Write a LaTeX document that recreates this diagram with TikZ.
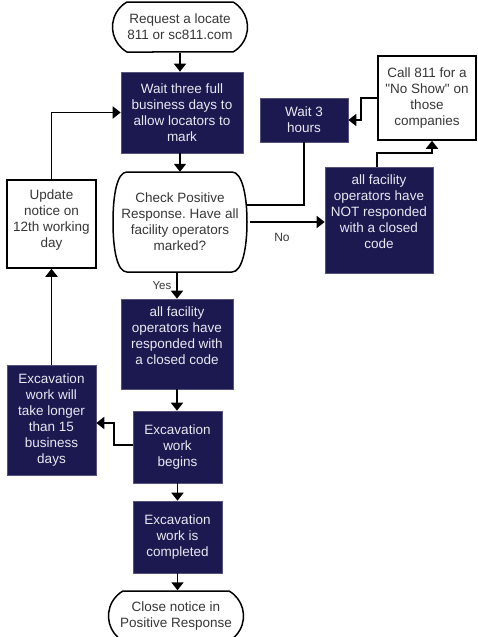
\documentclass[tikz,border=0pt]{standalone}
\usepackage{fontspec}
\setmainfont{Liberation Sans}[Ligatures=TeXOff]
\usetikzlibrary{shapes.misc,arrows.meta,calc}
\definecolor{navy}{RGB}{28,25,80}
\definecolor{lighttext}{RGB}{232,232,242}
\definecolor{darktext}{RGB}{55,55,55}
\frenchspacing
\begin{document}
\begin{tikzpicture}[x=1pt,y=-1pt,
  font=\fontsize{13.5}{16}\selectfont,
  darkbox/.style={rectangle, fill=navy, draw=navy!75!white, line width=0.6pt, text=lighttext, align=center, inner sep=0pt},
  whitebox/.style={rectangle, draw=black, line width=1.5pt, fill=white, text=darktext, align=center, inner sep=0pt},
  term/.style={rounded rectangle, rounded rectangle arc length=120, draw=black, line width=1.5pt, fill=white, text=darktext, align=center, inner sep=0pt},
  conn/.style={line width=1.8pt},
  arr/.style={line width=1.8pt, -{Triangle[width=12pt,length=8pt]}},
  lbl/.style={text=darktext, inner sep=0pt}
]
\useasboundingbox[fill=white] (0,0) rectangle (478,637);

% terminators
\node[term, minimum width=135pt, minimum height=50pt] (start) at (180,27) {Request a locate\\811 or sc811.com};
\node[term, minimum width=135pt, minimum height=50pt] (close) at (176,616) {Close notice in\\Positive Response};

% main column
\node[darkbox, minimum width=122pt, minimum height=81pt] (wait) at (182,112.5) {Wait three full\\business days to\\allow locators to\\mark};

% decision
\draw[line width=1.5pt, fill=white] (127,172) -- (232,172)
  .. controls (242,172) and (247,195) .. (247,222)
  .. controls (247,249) and (242,272) .. (232,272)
  -- (127,272)
  .. controls (117,272) and (113,249) .. (113,222)
  .. controls (113,195) and (117,172) .. (127,172) -- cycle;
\node[rectangle, minimum width=134pt, minimum height=100pt, inner sep=0pt, align=center, text=darktext] (dec) at (180,222) {Check Positive\\Response. Have all\\facility operators\\marked?};

\node[darkbox, minimum width=112pt, minimum height=90pt] (resp) at (177,344) {all facility\\operators have\\responded with\\a closed code\\\mbox{}};
\node[darkbox, minimum width=89pt, minimum height=72pt] (begins) at (177.5,447) {Excavation\\work\\begins};
\node[darkbox, minimum width=89pt, minimum height=72pt] (completed) at (177.5,537) {Excavation\\work is\\completed};

% right side
\node[darkbox, minimum width=88pt, minimum height=44pt] (wait3) at (304,120) {Wait 3\\hours};
\node[whitebox, minimum width=98pt, minimum height=84pt] (call) at (427,98) {Call 811 for a\\"No Show" on\\those\\companies};
\node[darkbox, minimum width=108pt, minimum height=106pt] (notbox) at (379,220) {all facility\\operators have\\NOT responded\\with a closed\\code\\\mbox{}};

% left side
\node[darkbox, minimum width=89pt, minimum height=110pt] (longer) at (51.5,420) {Excavation\\work will\\take longer\\than 15\\business\\days};
\node[whitebox, minimum width=89pt, minimum height=88pt] (update) at (51.5,224) {Update\\notice on\\12th working\\day\\[-6pt]\mbox{}};

% connectors
\draw[arr] (start.south) -- (start.south |- wait.north);
\draw[arr] (dec.north |- wait.south) -- (dec.north);
\draw[arr] (dec.south -| resp.north) -- (resp.north);
\draw[arr] (resp.south) -- (resp.south |- begins.north);
\draw[arr] (begins.south) -- (completed.north);
\draw[arr] (completed.south) -- (completed.south |- close.north);
\draw[arr] ($(dec.east)+(3,0)$) -- (dec.east -| notbox.west);
\draw[conn] (wait3.south) |- ($(dec.east)+(0,-17)$);
\draw[arr] (call.west) -- ++(-16,0) |- (wait3.east);
\draw[arr] ($(notbox.north)+(-2,0)$) -- ++(0,-14) -| ($(call.south)+(5,0)$);
\draw[arr] ($(begins.west)+(0,-2)$) -- ++(-19,0) |- ($(longer.east)+(0,3)$);
\draw[arr] (longer.north) -- (update.south);
\draw[arr] (update.north) |- (wait.west);

% labels
\node[lbl, font=\fontsize{12}{14}\selectfont] (no) at (282,237) {No};
\node[lbl, font=\fontsize{11.5}{14}\selectfont] (yes) at (162,286) {Yes};
\end{tikzpicture}
\end{document}
